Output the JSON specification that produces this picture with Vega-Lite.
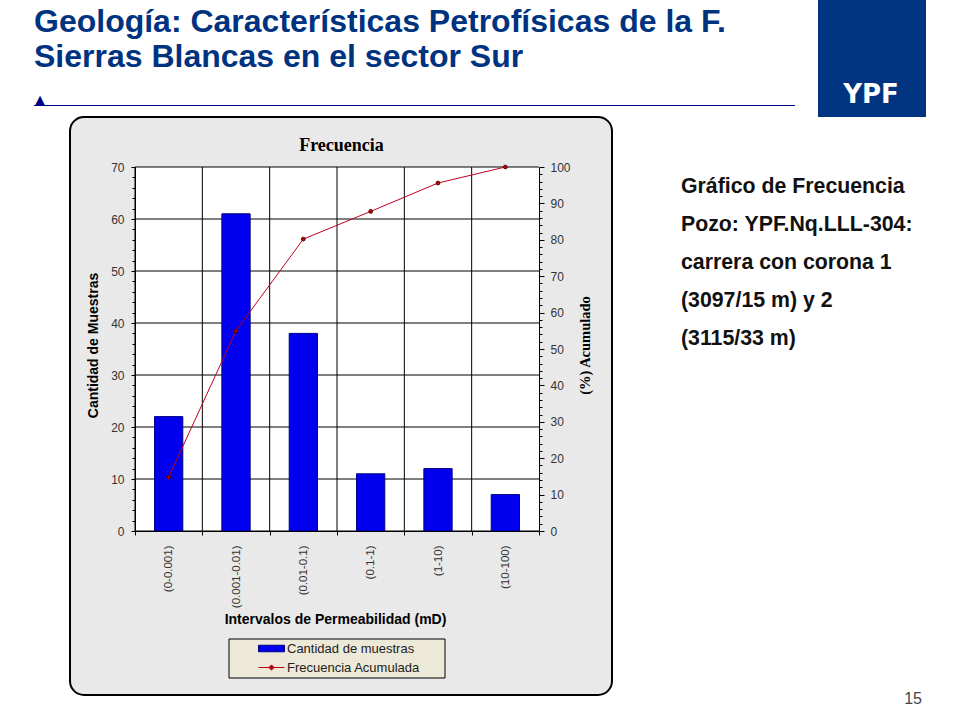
{
"$schema":"https://vega.github.io/schema/vega-lite/v6.json",
"width":404,"height":364,
"autosize":"none",
"padding":{"left":135,"top":167,"right":421,"bottom":189},
"background":"white",
"title":{"text":["Geología: Características Petrofísicas de la F.","Sierras Blancas en el sector Sur"],"anchor":"start","frame":"group","dx":-101,"dy":103,"align":"left","baseline":"alphabetic","font":"Liberation Sans","fontSize":32,"fontWeight":"bold","color":"#00337f","lineHeight":35},
"datasets":{
"main":[
{"intervalo":"(0-0.001)","cantidad":22,"acumulado":14.8},
{"intervalo":"(0.001-0.01)","cantidad":61,"acumulado":55},
{"intervalo":"(0.01-0.1)","cantidad":38,"acumulado":80.2},
{"intervalo":"(0.1-1)","cantidad":11,"acumulado":87.8},
{"intervalo":"(1-10)","cantidad":12,"acumulado":95.6},
{"intervalo":"(10-100)","cantidad":7,"acumulado":100}],
"grid":[{"v":0},{"v":10},{"v":20},{"v":30},{"v":40},{"v":50},{"v":60},{"v":70}],
"one":[{"id":1}]
},
"resolve":{"scale":{"y":"independent"},"axis":{"x":"independent","y":"independent"}},
"layer":[
{"data":{"name":"one"},"mark":{"type":"rect","x":-65,"x2":477,"y":-50,"y2":528,"cornerRadius":14,"fill":"#e9e9e9","stroke":"black","strokeWidth":2},"encoding":{}},
{"data":{"name":"one"},"mark":{"type":"rect","x":683,"x2":791,"y":-167,"y2":-50,"fill":"#003380"},"encoding":{}},
{"data":{"name":"one"},"mark":{"type":"rect","x":-101,"x2":660,"y":-62,"y2":-61,"fill":"#000080"},"encoding":{}},
{"data":{"name":"one"},"mark":{"type":"text","x":-95,"y":-63,"text":"▲","font":"DejaVu Sans","fontSize":13,"fill":"#000080","align":"center","baseline":"alphabetic"},"encoding":{}},
{"data":{"name":"one"},"mark":{"type":"text","x":736,"y":-64,"text":"YPF","font":"DejaVu Sans","fontWeight":"bold","fontSize":26,"fill":"white","align":"center","baseline":"alphabetic"},"encoding":{}},
{"data":{"name":"one"},"mark":{"type":"text","x":787,"y":537,"text":"15","font":"Liberation Sans","fontSize":16,"fill":"#444444","align":"right","baseline":"alphabetic"},"encoding":{}},
{"data":{"name":"one"},"mark":{"type":"text","x":546,"y":26,"text":"Gráfico de Frecuencia\nPozo: YPF.Nq.LLL-304:\ncarrera con corona 1\n(3097/15 m) y  2\n(3115/33 m)","lineBreak":"\n","lineHeight":38,"font":"Liberation Sans","fontWeight":"bold","fontSize":21.3,"fill":"#111111","align":"left","baseline":"alphabetic"},"encoding":{}},
{"data":{"name":"one"},"mark":{"type":"rect","fill":"white"},"encoding":{}},
{"data":{"name":"one"},"mark":{"type":"rect","x":94,"x2":310,"y":472,"y2":511,"fill":"#ece9d8","stroke":"black","strokeWidth":1},"encoding":{}},
{"data":{"name":"grid"},"mark":{"type":"rule","stroke":"black","strokeWidth":1},
 "encoding":{"y":{"field":"v","type":"quantitative","scale":{"domain":[0,70]},"axis":{"orient":"left","zindex":1,"values":[0,10,20,30,40,50,60,70],"grid":false,"tickSize":4,"tickColor":"black","domainColor":"black","labelFont":"Liberation Sans","labelFontSize":12,"labelColor":"#333333","labelPadding":7,"title":"Cantidad de Muestras","titleFont":"Liberation Sans","titleFontSize":14,"titleFontWeight":"bold","titleColor":"black","titlePadding":10,"titleY":178}}}},
{"data":{"name":"main"},"mark":{"type":"rule","stroke":"black","strokeWidth":1},
 "encoding":{"x":{"field":"intervalo","type":"nominal","sort":null,"bandPosition":0,"scale":{"paddingInner":0,"paddingOuter":0},
 "axis":{"orient":"bottom","zindex":1,"tickBand":"extent","grid":false,"tickSize":4,"tickColor":"black","domainColor":"black","labelAngle":270,"labelAlign":"right","labelBaseline":"middle","labelFont":"Liberation Sans","labelFontSize":11.5,"labelColor":"#333333","labelPadding":10,"title":"Intervalos de Permeabilidad (mD)","titleFont":"Liberation Sans","titleFontSize":14,"titleFontWeight":"bold","titleColor":"black","titlePadding":5,"titleX":200}}}},
{"data":{"name":"main"},"mark":{"type":"bar","width":{"band":0.42},"stroke":"#000080","strokeWidth":1},
 "encoding":{"x":{"field":"intervalo","type":"nominal","sort":null,"axis":{"orient":"top","zindex":1,"labels":false,"ticks":false,"domain":false,"title":"Frecuencia","titleFont":"Liberation Serif","titleFontSize":18,"titleFontWeight":"bold","titleColor":"black","titlePadding":13,"titleX":206}},
 "y":{"field":"cantidad","type":"quantitative","scale":{"domain":[0,70]},"axis":{"orient":"left","zindex":1,"values":[2,4,6,8,12,14,16,18,22,24,26,28,32,34,36,38,42,44,46,48,52,54,56,58,62,64,66,68],"labels":false,"domain":false,"title":null,"tickSize":3,"tickColor":"black","grid":false}},
 "fill":{"datum":"Cantidad de muestras","scale":{"range":["#0000ee"]},"legend":{"orient":"none","legendX":115,"legendY":468,"title":null,"padding":0,"symbolType":"M-1,-0.25H1V0.25H-1Z","symbolSize":676,"symbolStrokeWidth":1,"symbolStrokeColor":"#000080","symbolOffset":8,"labelFont":"Liberation Sans","labelFontSize":13,"labelColor":"#222222","labelOffset":2}}}},
{"data":{"name":"main"},"mark":{"type":"line","strokeWidth":1},
 "encoding":{"x":{"field":"intervalo","type":"nominal","sort":null,"axis":null},
 "y":{"field":"acumulado","type":"quantitative","scale":{"domain":[0,100]},"axis":{"orient":"right","zindex":1,"values":[0,10,20,30,40,50,60,70,80,90,100],"grid":false,"tickSize":5,"tickColor":"black","domainColor":"black","labelFont":"Liberation Sans","labelFontSize":12,"labelColor":"#333333","labelPadding":6,"title":"(%) Acumulado","titleFont":"Liberation Serif","titleFontSize":14.5,"titleFontWeight":"bold","titleColor":"black","titleAngle":270,"titlePadding":22,"titleY":178}},
 "stroke":{"datum":"Frecuencia Acumulada","scale":{"range":["#c00020"]},"legend":{"orient":"none","legendX":115,"legendY":487,"title":null,"padding":0,"symbolType":"M-1,0H1M-0.2,0L0,-0.2L0.2,0L0,0.2Z","symbolSize":676,"symbolFillColor":"#c00000","symbolStrokeWidth":1,"symbolOffset":8,"labelFont":"Liberation Sans","labelFontSize":13,"labelColor":"#222222","labelOffset":2}}}},
{"data":{"name":"main"},"mark":{"type":"point","filled":true,"fill":"#c00000","stroke":"#500000","strokeWidth":1,"size":14,"opacity":1},
 "encoding":{"x":{"field":"intervalo","type":"nominal","sort":null,"axis":null},
 "y":{"field":"acumulado","type":"quantitative","scale":{"domain":[0,100]},"axis":{"orient":"right","zindex":1,"values":[2,4,6,8,12,14,16,18,22,24,26,28,32,34,36,38,42,44,46,48,52,54,56,58,62,64,66,68,72,74,76,78,82,84,86,88,92,94,96,98],"labels":false,"domain":false,"title":null,"tickSize":3,"tickColor":"black","grid":false}}}}
]
}
